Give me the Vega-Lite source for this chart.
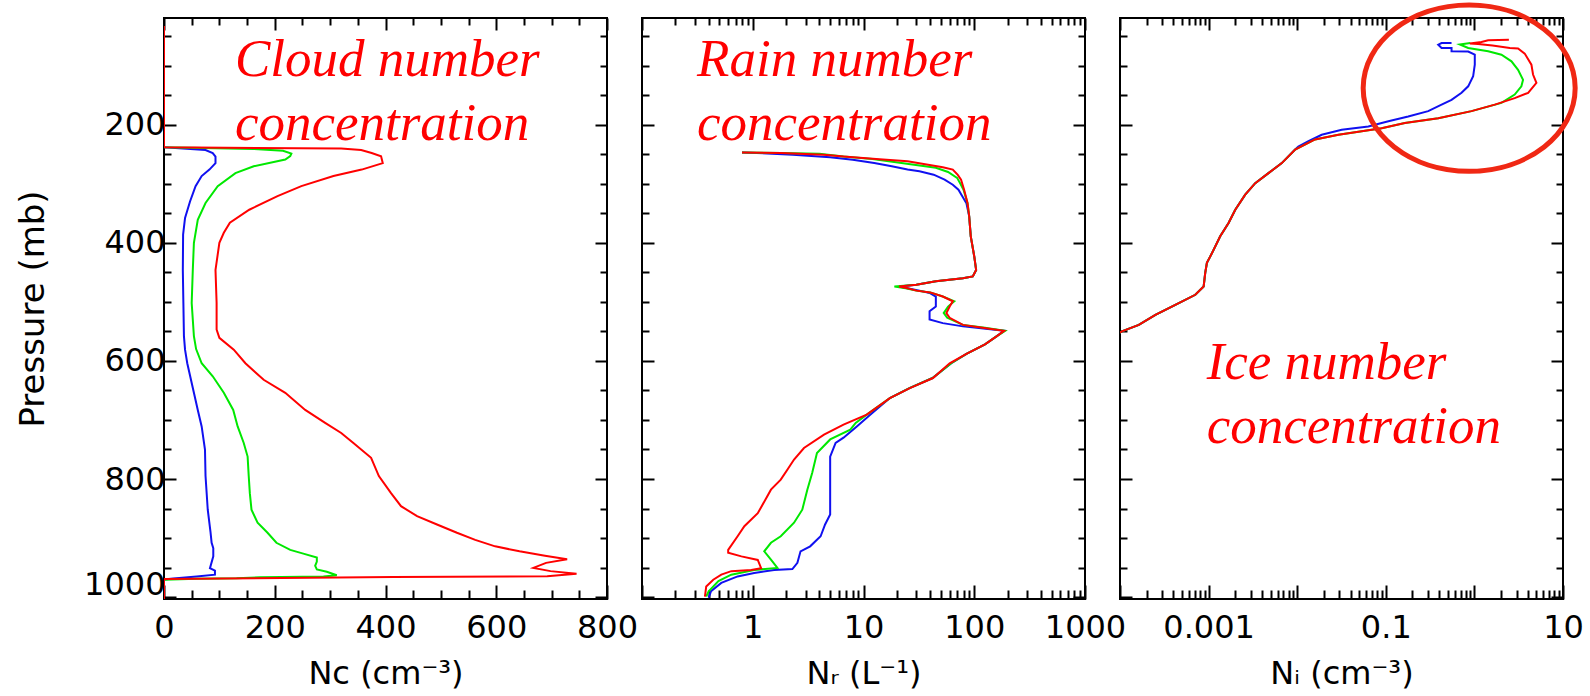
{
 "$schema": "https://vega.github.io/schema/vega-lite/v6.json",
 "background": "white",
 "padding": {"left": 15, "top": -7, "right": 5, "bottom": 0},
 "config": {
  "view": {"stroke": "#000000", "strokeWidth": 2},
  "axis": {"domain": false, "grid": false, "tickColor": "#000000", "tickWidth": 2, "labelFont": "DejaVu Sans", "labelFontSize": 32, "labelColor": "#000000", "titleFont": "DejaVu Sans", "titleFontSize": 32, "titleFontWeight": "normal", "titleColor": "#000000", "labelOverlap": false, "labelFlush": false, "labelBound": false}
 },
 "datasets": {
  "cloud": [
   {"run":"c1","p":33,"v":0},{"run":"c1","p":238,"v":0},{"run":"c1","p":243,"v":75},{"run":"c1","p":248,"v":88},{"run":"c1","p":254,"v":93},{"run":"c1","p":265,"v":93},{"run":"c1","p":276,"v":82},{"run":"c1","p":287,"v":68},{"run":"c1","p":304,"v":57},{"run":"c1","p":330,"v":47},{"run":"c1","p":358,"v":38},{"run":"c1","p":386,"v":34.5},{"run":"c1","p":446,"v":34},{"run":"c1","p":502,"v":35},{"run":"c1","p":558,"v":36},{"run":"c1","p":581,"v":38},{"run":"c1","p":604,"v":42},{"run":"c1","p":654,"v":54},{"run":"c1","p":683,"v":61},{"run":"c1","p":711,"v":68},{"run":"c1","p":750,"v":74},{"run":"c1","p":795,"v":75},{"run":"c1","p":852,"v":79},{"run":"c1","p":890,"v":84},{"run":"c1","p":908,"v":86},{"run":"c1","p":917,"v":89},{"run":"c1","p":931,"v":89},{"run":"c1","p":951,"v":83},{"run":"c1","p":955,"v":92},{"run":"c1","p":962,"v":92},{"run":"c1","p":965,"v":59},{"run":"c1","p":968.5,"v":17},{"run":"c1","p":970,"v":0},{"run":"c1","p":1003,"v":0},
   {"run":"c2","p":33,"v":0},{"run":"c2","p":238,"v":0},{"run":"c2","p":241,"v":162},{"run":"c2","p":244,"v":215},{"run":"c2","p":249,"v":230},{"run":"c2","p":253,"v":228},{"run":"c2","p":259,"v":219},{"run":"c2","p":270.5,"v":162},{"run":"c2","p":282,"v":129},{"run":"c2","p":304,"v":97},{"run":"c2","p":332.6,"v":75},{"run":"c2","p":361,"v":61},{"run":"c2","p":400,"v":54},{"run":"c2","p":446,"v":52},{"run":"c2","p":502,"v":50},{"run":"c2","p":558,"v":54},{"run":"c2","p":580,"v":58},{"run":"c2","p":604,"v":68},{"run":"c2","p":626,"v":88},{"run":"c2","p":654,"v":108},{"run":"c2","p":683,"v":125},{"run":"c2","p":711,"v":133},{"run":"c2","p":739,"v":144},{"run":"c2","p":762,"v":151},{"run":"c2","p":795,"v":153},{"run":"c2","p":824,"v":155},{"run":"c2","p":852,"v":158},{"run":"c2","p":874,"v":169},{"run":"c2","p":891,"v":187},{"run":"c2","p":908,"v":203},{"run":"c2","p":920,"v":228},{"run":"c2","p":926,"v":250},{"run":"c2","p":933,"v":276},{"run":"c2","p":940,"v":276},{"run":"c2","p":947,"v":273},{"run":"c2","p":953,"v":276},{"run":"c2","p":957,"v":294},{"run":"c2","p":963,"v":312},{"run":"c2","p":965,"v":288},{"run":"c2","p":966.5,"v":173},{"run":"c2","p":968,"v":131},{"run":"c2","p":969,"v":59},{"run":"c2","p":970.5,"v":0},{"run":"c2","p":1003,"v":0},
   {"run":"c3","p":33,"v":0},{"run":"c3","p":238,"v":0},{"run":"c3","p":240.5,"v":320},{"run":"c3","p":243,"v":356},{"run":"c3","p":248,"v":375},{"run":"c3","p":253.5,"v":392},{"run":"c3","p":265,"v":395},{"run":"c3","p":276,"v":357},{"run":"c3","p":287,"v":306},{"run":"c3","p":304,"v":248},{"run":"c3","p":321,"v":205},{"run":"c3","p":344,"v":154},{"run":"c3","p":366,"v":119},{"run":"c3","p":383,"v":108},{"run":"c3","p":400,"v":100},{"run":"c3","p":446,"v":93},{"run":"c3","p":502,"v":95},{"run":"c3","p":547,"v":95},{"run":"c3","p":561,"v":100},{"run":"c3","p":581,"v":126},{"run":"c3","p":604,"v":147},{"run":"c3","p":632,"v":180},{"run":"c3","p":654,"v":219},{"run":"c3","p":683,"v":255},{"run":"c3","p":705,"v":291},{"run":"c3","p":722,"v":320},{"run":"c3","p":739,"v":342},{"run":"c3","p":764,"v":374},{"run":"c3","p":795,"v":388},{"run":"c3","p":824,"v":410},{"run":"c3","p":846,"v":428},{"run":"c3","p":863,"v":457},{"run":"c3","p":877,"v":493},{"run":"c3","p":891,"v":529},{"run":"c3","p":903,"v":562},{"run":"c3","p":914,"v":598},{"run":"c3","p":922.5,"v":642},{"run":"c3","p":930,"v":688},{"run":"c3","p":936,"v":728},{"run":"c3","p":942,"v":690},{"run":"c3","p":950.5,"v":667},{"run":"c3","p":956,"v":698},{"run":"c3","p":960.5,"v":745},{"run":"c3","p":964.8,"v":692},{"run":"c3","p":966,"v":414},{"run":"c3","p":969.5,"v":0},{"run":"c3","p":1003,"v":0}
  ],
  "rain": [
   {"run":"c1","p":247,"v":0.8},{"run":"c1","p":249,"v":1.5},{"run":"c1","p":251,"v":2.3},{"run":"c1","p":255,"v":5},{"run":"c1","p":259.5,"v":8},{"run":"c1","p":265,"v":12.5},{"run":"c1","p":270.5,"v":18},{"run":"c1","p":276,"v":25},{"run":"c1","p":279,"v":32},{"run":"c1","p":284.6,"v":43},{"run":"c1","p":293,"v":54},{"run":"c1","p":301.6,"v":64},{"run":"c1","p":310,"v":72},{"run":"c1","p":321,"v":78},{"run":"c1","p":333,"v":85},{"run":"c1","p":355,"v":90},{"run":"c1","p":389,"v":93},{"run":"c1","p":423,"v":100},{"run":"c1","p":446,"v":104},{"run":"c1","p":457,"v":97},{"run":"c1","p":460,"v":79},{"run":"c1","p":465,"v":45},{"run":"c1","p":471,"v":30},{"run":"c1","p":474,"v":21},{"run":"c1","p":477,"v":25},{"run":"c1","p":481,"v":32},{"run":"c1","p":485,"v":39.5},{"run":"c1","p":491,"v":45},{"run":"c1","p":508,"v":45},{"run":"c1","p":516,"v":39.5},{"run":"c1","p":530,"v":39.5},{"run":"c1","p":536,"v":52},{"run":"c1","p":541.5,"v":79},{"run":"c1","p":549,"v":186},{"run":"c1","p":558,"v":160},{"run":"c1","p":572,"v":125},{"run":"c1","p":588,"v":85},{"run":"c1","p":604,"v":62},{"run":"c1","p":629,"v":42},{"run":"c1","p":646,"v":26},{"run":"c1","p":663,"v":17.3},{"run":"c1","p":691,"v":11.5},{"run":"c1","p":711,"v":8.7},{"run":"c1","p":730,"v":6.6},{"run":"c1","p":739,"v":5.6},{"run":"c1","p":762,"v":5.0},{"run":"c1","p":860,"v":5.0},{"run":"c1","p":877,"v":4.5},{"run":"c1","p":897,"v":4.1},{"run":"c1","p":914,"v":3.3},{"run":"c1","p":922.5,"v":2.7},{"run":"c1","p":942,"v":2.53},{"run":"c1","p":952.5,"v":2.28},{"run":"c1","p":954,"v":1.56},{"run":"c1","p":959,"v":1.03},{"run":"c1","p":965,"v":0.73},{"run":"c1","p":976,"v":0.52},{"run":"c1","p":990,"v":0.42},{"run":"c1","p":1001,"v":0.4},
   {"run":"c2","p":247,"v":0.8},{"run":"c2","p":248,"v":1.8},{"run":"c2","p":249,"v":4},{"run":"c2","p":254,"v":6.6},{"run":"c2","p":258,"v":12},{"run":"c2","p":265,"v":22},{"run":"c2","p":273,"v":45},{"run":"c2","p":280,"v":58},{"run":"c2","p":290,"v":70},{"run":"c2","p":300,"v":75},{"run":"c2","p":310,"v":80},{"run":"c2","p":333,"v":87},{"run":"c2","p":355,"v":90},{"run":"c2","p":389,"v":93},{"run":"c2","p":423,"v":100},{"run":"c2","p":446,"v":104},{"run":"c2","p":457,"v":97},{"run":"c2","p":460,"v":79},{"run":"c2","p":465,"v":45},{"run":"c2","p":471,"v":30},{"run":"c2","p":474,"v":19},{"run":"c2","p":477,"v":24},{"run":"c2","p":481,"v":30},{"run":"c2","p":484,"v":40},{"run":"c2","p":491,"v":52},{"run":"c2","p":499,"v":66},{"run":"c2","p":508,"v":58},{"run":"c2","p":519,"v":53},{"run":"c2","p":527,"v":57},{"run":"c2","p":539,"v":79},{"run":"c2","p":544,"v":125},{"run":"c2","p":549,"v":190},{"run":"c2","p":558,"v":160},{"run":"c2","p":572,"v":125},{"run":"c2","p":588,"v":85},{"run":"c2","p":604,"v":62},{"run":"c2","p":629,"v":42},{"run":"c2","p":646,"v":26},{"run":"c2","p":663,"v":17.3},{"run":"c2","p":691,"v":10.7},{"run":"c2","p":705,"v":8.5},{"run":"c2","p":716.5,"v":7.6},{"run":"c2","p":733,"v":5.0},{"run":"c2","p":756,"v":3.8},{"run":"c2","p":790,"v":3.44},{"run":"c2","p":818,"v":3.11},{"run":"c2","p":852,"v":2.8},{"run":"c2","p":874,"v":2.36},{"run":"c2","p":897,"v":1.79},{"run":"c2","p":908,"v":1.46},{"run":"c2","p":922.5,"v":1.27},{"run":"c2","p":936.7,"v":1.46},{"run":"c2","p":950.7,"v":1.67},{"run":"c2","p":954,"v":1.03},{"run":"c2","p":962,"v":0.64},{"run":"c2","p":973,"v":0.49},{"run":"c2","p":990,"v":0.4},{"run":"c2","p":999,"v":0.38},
   {"run":"c3","p":247,"v":0.8},{"run":"c3","p":248,"v":1.8},{"run":"c3","p":251,"v":4.4},{"run":"c3","p":254,"v":6.6},{"run":"c3","p":258,"v":13},{"run":"c3","p":262,"v":25},{"run":"c3","p":272,"v":52},{"run":"c3","p":276,"v":64},{"run":"c3","p":285,"v":71},{"run":"c3","p":293,"v":76},{"run":"c3","p":310,"v":81},{"run":"c3","p":333,"v":87},{"run":"c3","p":355,"v":90},{"run":"c3","p":389,"v":93},{"run":"c3","p":423,"v":100},{"run":"c3","p":446,"v":104},{"run":"c3","p":457,"v":97},{"run":"c3","p":460,"v":79},{"run":"c3","p":465,"v":45},{"run":"c3","p":471,"v":30},{"run":"c3","p":474,"v":21},{"run":"c3","p":477,"v":25},{"run":"c3","p":481,"v":30},{"run":"c3","p":484,"v":40},{"run":"c3","p":491,"v":52},{"run":"c3","p":499,"v":64},{"run":"c3","p":508,"v":60},{"run":"c3","p":519,"v":56},{"run":"c3","p":527,"v":60},{"run":"c3","p":539,"v":79},{"run":"c3","p":544,"v":119},{"run":"c3","p":549,"v":186},{"run":"c3","p":558,"v":160},{"run":"c3","p":572,"v":125},{"run":"c3","p":588,"v":85},{"run":"c3","p":604,"v":60},{"run":"c3","p":629,"v":42.4},{"run":"c3","p":646,"v":26.2},{"run":"c3","p":663,"v":17.3},{"run":"c3","p":691,"v":10.7},{"run":"c3","p":708,"v":6.6},{"run":"c3","p":725,"v":4.4},{"run":"c3","p":747.5,"v":2.9},{"run":"c3","p":767,"v":2.36},{"run":"c3","p":784,"v":2.06},{"run":"c3","p":801,"v":1.79},{"run":"c3","p":818,"v":1.46},{"run":"c3","p":858,"v":1.11},{"run":"c3","p":880,"v":0.84},{"run":"c3","p":897,"v":0.73},{"run":"c3","p":920,"v":0.6},{"run":"c3","p":925,"v":0.6},{"run":"c3","p":931,"v":0.79},{"run":"c3","p":937,"v":1.11},{"run":"c3","p":951,"v":1.19},{"run":"c3","p":954,"v":0.97},{"run":"c3","p":956,"v":0.64},{"run":"c3","p":962,"v":0.52},{"run":"c3","p":970.5,"v":0.44},{"run":"c3","p":982,"v":0.38},{"run":"c3","p":999,"v":0.37}
  ],
  "ice": [
   {"run":"c1","p":552,"v":0.0001},{"run":"c1","p":550,"v":0.000105},{"run":"c1","p":539,"v":0.000163},{"run":"c1","p":522,"v":0.000251},{"run":"c1","p":505,"v":0.000421},{"run":"c1","p":488,"v":0.000708},{"run":"c1","p":474,"v":0.000879},{"run":"c1","p":451,"v":0.000916},{"run":"c1","p":434,"v":0.000957},{"run":"c1","p":423,"v":0.001045},{"run":"c1","p":412,"v":0.001138},{"run":"c1","p":389,"v":0.001352},{"run":"c1","p":366.5,"v":0.00168},{"run":"c1","p":344,"v":0.002},{"run":"c1","p":318.5,"v":0.00259},{"run":"c1","p":299,"v":0.00336},{"run":"c1","p":282,"v":0.00474},{"run":"c1","p":265,"v":0.0067},{"run":"c1","p":242,"v":0.00948},{"run":"c1","p":237,"v":0.0103},{"run":"c1","p":228,"v":0.0134},{"run":"c1","p":217,"v":0.0189},{"run":"c1","p":208.5,"v":0.0318},{"run":"c1","p":203,"v":0.0635},{"run":"c1","p":194,"v":0.107},{"run":"c1","p":186,"v":0.179},{"run":"c1","p":177,"v":0.301},{"run":"c1","p":166,"v":0.426},{"run":"c1","p":158,"v":0.552},{"run":"c1","p":146,"v":0.716},{"run":"c1","p":135,"v":0.851},{"run":"c1","p":118,"v":0.968},{"run":"c1","p":98.4,"v":1.01},{"run":"c1","p":81.4,"v":1.01},{"run":"c1","p":76,"v":0.851},{"run":"c1","p":75.7,"v":0.552},{"run":"c1","p":70.2,"v":0.552},{"run":"c1","p":70,"v":0.426},{"run":"c1","p":64.5,"v":0.391},{"run":"c1","p":61.8,"v":0.426},{"run":"c1","p":61.6,"v":0.552},
   {"run":"c2","p":552,"v":0.0001},{"run":"c2","p":550,"v":0.000105},{"run":"c2","p":539,"v":0.000163},{"run":"c2","p":522,"v":0.000251},{"run":"c2","p":505,"v":0.000421},{"run":"c2","p":488,"v":0.000708},{"run":"c2","p":474,"v":0.000879},{"run":"c2","p":451,"v":0.000916},{"run":"c2","p":434,"v":0.000957},{"run":"c2","p":423,"v":0.001045},{"run":"c2","p":412,"v":0.001138},{"run":"c2","p":389,"v":0.001352},{"run":"c2","p":366.5,"v":0.00168},{"run":"c2","p":344,"v":0.002},{"run":"c2","p":318.5,"v":0.00259},{"run":"c2","p":299,"v":0.00336},{"run":"c2","p":282,"v":0.00474},{"run":"c2","p":265,"v":0.0067},{"run":"c2","p":242,"v":0.00948},{"run":"c2","p":225,"v":0.0159},{"run":"c2","p":217,"v":0.0292},{"run":"c2","p":211,"v":0.0535},{"run":"c2","p":206,"v":0.0897},{"run":"c2","p":197,"v":0.164},{"run":"c2","p":189,"v":0.391},{"run":"c2","p":177,"v":0.927},{"run":"c2","p":163,"v":2.02},{"run":"c2","p":149,"v":2.85},{"run":"c2","p":135,"v":3.39},{"run":"c2","p":124,"v":3.54},{"run":"c2","p":107,"v":3.11},{"run":"c2","p":92.7,"v":2.62},{"run":"c2","p":81.4,"v":2.02},{"run":"c2","p":75.7,"v":1.43},{"run":"c2","p":70,"v":0.851},{"run":"c2","p":64,"v":0.685},{"run":"c2","p":61.6,"v":0.9},
   {"run":"c3","p":552,"v":0.0001},{"run":"c3","p":550,"v":0.000105},{"run":"c3","p":539,"v":0.000163},{"run":"c3","p":522,"v":0.000251},{"run":"c3","p":505,"v":0.000421},{"run":"c3","p":488,"v":0.000708},{"run":"c3","p":474,"v":0.000879},{"run":"c3","p":451,"v":0.000916},{"run":"c3","p":434,"v":0.000957},{"run":"c3","p":423,"v":0.001045},{"run":"c3","p":412,"v":0.001138},{"run":"c3","p":389,"v":0.001352},{"run":"c3","p":366.5,"v":0.00168},{"run":"c3","p":344,"v":0.002},{"run":"c3","p":318.5,"v":0.00259},{"run":"c3","p":299,"v":0.00336},{"run":"c3","p":282,"v":0.00474},{"run":"c3","p":265,"v":0.0067},{"run":"c3","p":242,"v":0.00948},{"run":"c3","p":225,"v":0.0159},{"run":"c3","p":217,"v":0.0292},{"run":"c3","p":211,"v":0.0535},{"run":"c3","p":206,"v":0.0897},{"run":"c3","p":197,"v":0.164},{"run":"c3","p":189,"v":0.391},{"run":"c3","p":177,"v":0.927},{"run":"c3","p":166,"v":1.7},{"run":"c3","p":155,"v":2.85},{"run":"c3","p":146,"v":4.04},{"run":"c3","p":129,"v":5.01},{"run":"c3","p":115,"v":4.59},{"run":"c3","p":98.4,"v":4.4},{"run":"c3","p":79.6,"v":3.7},{"run":"c3","p":71,"v":3.11},{"run":"c3","p":70,"v":2.51},{"run":"c3","p":66,"v":1.6},{"run":"c3","p":63.5,"v":1.1},{"run":"c3","p":62.5,"v":0.89},{"run":"c3","p":60,"v":1.2},{"run":"c3","p":57,"v":1.43},{"run":"c3","p":56,"v":2.45}
  ],
  "notes": [
   {"panel":"cloud","label":"Cloud number","v":128,"p":117},
   {"panel":"cloud","label":"concentration","v":128,"p":225.4},
   {"panel":"rain","label":"Rain number","v":0.314,"p":117},
   {"panel":"rain","label":"concentration","v":0.314,"p":225.4},
   {"panel":"ice","label":"Ice number","v":0.00095,"p":630.7},
   {"panel":"ice","label":"concentration","v":0.00095,"p":739}
  ],
  "ring": [{"v":0.873,"p":138}]
 },
 "spacing": 35,
 "bounds": "flush",
 "hconcat": [
  {
   "width": 443, "height": 581,
   "layer": [
    {
     "data": {"name": "cloud"},
     "mark": {"type": "line", "strokeWidth": 2, "clip": true},
     "encoding": {
      "x": {"field": "v", "type": "quantitative", "scale": {"domain": [0, 800], "nice": false, "zero": false},
            "axis": {"orient": "bottom", "values": [0,50,100,150,200,250,300,350,400,450,500,550,600,650,700,750,800], "tickSize": {"condition": {"test": "datum.value % 200 === 0", "value": -14}, "value": -9}, "labelExpr": "datum.value % 200 === 0 ? format(datum.value, 'd') : ''", "labelPadding": 27, "title": "Nc (cm⁻³)", "titlePadding": 10}},
      "y": {"field": "p", "type": "quantitative", "scale": {"domain": [19.3, 1003.2], "reverse": true, "nice": false, "zero": false},
            "axis": {"orient": "left", "values": [50,100,150,200,250,300,350,400,450,500,550,600,650,700,750,800,850,900,950,1000], "tickSize": {"condition": {"test": "datum.value % 200 === 0", "value": -12}, "value": -7}, "labelExpr": "datum.value % 200 === 0 ? format(datum.value, 'd') : ''", "labelPadding": 11, "labelOffset": {"condition": {"test": "datum.value === 1000", "value": -13}, "value": 0}, "title": "Pressure (mb)", "titleFontSize": 34, "titlePadding": 33}},
      "color": {"field": "run", "type": "nominal", "scale": {"domain": ["c1", "c2", "c3"], "range": ["#1010f0", "#00e800", "#ff0000"]}, "legend": null},
      "order": {"field": "p", "type": "quantitative"}
     }
    },
    {
     "data": {"name": "notes"},
     "transform": [{"filter": "datum.panel === 'cloud'"}],
     "mark": {"type": "text", "align": "left", "baseline": "alphabetic", "font": "Liberation Serif", "fontStyle": "italic", "fontSize": 53, "fill": "#ff0000"},
     "encoding": {
      "x": {"field": "v", "type": "quantitative", "scale": {"domain": [0, 800], "nice": false, "zero": false},
            "axis": {"orient": "top", "values": [0,50,100,150,200,250,300,350,400,450,500,550,600,650,700,750,800], "tickSize": {"condition": {"test": "datum.value % 200 === 0", "value": -12}, "value": -7}, "labels": false, "title": null}},
      "y": {"field": "p", "type": "quantitative", "scale": {"domain": [19.3, 1003.2], "reverse": true, "nice": false, "zero": false},
            "axis": {"orient": "right", "values": [50,100,150,200,250,300,350,400,450,500,550,600,650,700,750,800,850,900,950,1000], "tickSize": {"condition": {"test": "datum.value % 200 === 0", "value": -12}, "value": -7}, "labels": false, "title": null}},
      "text": {"field": "label", "type": "nominal"}
     }
    }
   ],
   "resolve": {"axis": {"x": "independent", "y": "independent"}}
  },
  {
   "width": 443, "height": 581,
   "layer": [
    {
     "data": {"name": "rain"},
     "mark": {"type": "line", "strokeWidth": 2, "clip": true},
     "encoding": {
      "x": {"field": "v", "type": "quantitative", "scale": {"type": "log", "domain": [0.1, 1000], "nice": false},
            "axis": {"orient": "bottom", "values": [0.1,0.2,0.3,0.4,0.5,0.6,0.7,0.8,0.9,1,2,3,4,5,6,7,8,9,10,20,30,40,50,60,70,80,90,100,200,300,400,500,600,700,800,900,1000], "tickSize": {"condition": {"test": "abs(log(datum.value)/LN10 - round(log(datum.value)/LN10)) < 0.001", "value": -14}, "value": -9}, "labelExpr": "(abs(log(datum.value)/LN10 - round(log(datum.value)/LN10)) < 0.001 && datum.value >= 1) ? format(datum.value, '~g') : ''", "labelPadding": 27, "title": "Nᵣ (L⁻¹)", "titlePadding": 10}},
      "y": {"field": "p", "type": "quantitative", "scale": {"domain": [19.3, 1003.2], "reverse": true, "nice": false, "zero": false},
            "axis": {"orient": "left", "values": [50,100,150,200,250,300,350,400,450,500,550,600,650,700,750,800,850,900,950,1000], "tickSize": {"condition": {"test": "datum.value % 200 === 0", "value": -12}, "value": -7}, "labels": false, "title": null}},
      "color": {"field": "run", "type": "nominal", "scale": {"domain": ["c1", "c2", "c3"], "range": ["#1010f0", "#00e800", "#ff0000"]}, "legend": null},
      "order": {"field": "p", "type": "quantitative"}
     }
    },
    {
     "data": {"name": "notes"},
     "transform": [{"filter": "datum.panel === 'rain'"}],
     "mark": {"type": "text", "align": "left", "baseline": "alphabetic", "font": "Liberation Serif", "fontStyle": "italic", "fontSize": 53, "fill": "#ff0000"},
     "encoding": {
      "x": {"field": "v", "type": "quantitative", "scale": {"type": "log", "domain": [0.1, 1000], "nice": false},
            "axis": {"orient": "top", "values": [0.1,0.2,0.3,0.4,0.5,0.6,0.7,0.8,0.9,1,2,3,4,5,6,7,8,9,10,20,30,40,50,60,70,80,90,100,200,300,400,500,600,700,800,900,1000], "tickSize": {"condition": {"test": "abs(log(datum.value)/LN10 - round(log(datum.value)/LN10)) < 0.001", "value": -12}, "value": -7}, "labels": false, "title": null}},
      "y": {"field": "p", "type": "quantitative", "scale": {"domain": [19.3, 1003.2], "reverse": true, "nice": false, "zero": false},
            "axis": {"orient": "right", "values": [50,100,150,200,250,300,350,400,450,500,550,600,650,700,750,800,850,900,950,1000], "tickSize": {"condition": {"test": "datum.value % 200 === 0", "value": -12}, "value": -7}, "labels": false, "title": null}},
      "text": {"field": "label", "type": "nominal"}
     }
    }
   ],
   "resolve": {"axis": {"x": "independent", "y": "independent"}}
  },
  {
   "width": 443, "height": 581,
   "layer": [
    {
     "data": {"name": "ice"},
     "mark": {"type": "line", "strokeWidth": 2, "clip": true},
     "encoding": {
      "x": {"field": "v", "type": "quantitative", "scale": {"type": "log", "domain": [0.0001, 10], "nice": false},
            "axis": {"orient": "bottom", "values": [0.0001,0.0002,0.0003,0.0004,0.0005,0.0006,0.0007,0.0008,0.0009,0.001,0.002,0.003,0.004,0.005,0.006,0.007,0.008,0.009,0.01,0.02,0.03,0.04,0.05,0.06,0.07,0.08,0.09,0.1,0.2,0.3,0.4,0.5,0.6,0.7,0.8,0.9,1,2,3,4,5,6,7,8,9,10], "tickSize": {"condition": {"test": "abs(log(datum.value)/LN10 - round(log(datum.value)/LN10)) < 0.001", "value": -14}, "value": -9}, "labelExpr": "(abs(log(datum.value)/LN10 - round(log(datum.value)/LN10)) < 0.001 && round(log(datum.value)/LN10) % 2 !== 0) ? format(datum.value, '~g') : ''", "labelPadding": 27, "title": "Nᵢ (cm⁻³)", "titlePadding": 10}},
      "y": {"field": "p", "type": "quantitative", "scale": {"domain": [19.3, 1003.2], "reverse": true, "nice": false, "zero": false},
            "axis": {"orient": "left", "values": [50,100,150,200,250,300,350,400,450,500,550,600,650,700,750,800,850,900,950,1000], "tickSize": {"condition": {"test": "datum.value % 200 === 0", "value": -12}, "value": -7}, "labels": false, "title": null}},
      "color": {"field": "run", "type": "nominal", "scale": {"domain": ["c1", "c2", "c3"], "range": ["#1010f0", "#00e800", "#ff0000"]}, "legend": null},
      "order": {"field": "p", "type": "quantitative"}
     }
    },
    {
     "data": {"name": "notes"},
     "transform": [{"filter": "datum.panel === 'ice'"}],
     "mark": {"type": "text", "align": "left", "baseline": "alphabetic", "font": "Liberation Serif", "fontStyle": "italic", "fontSize": 53, "fill": "#ff0000"},
     "encoding": {
      "x": {"field": "v", "type": "quantitative", "scale": {"type": "log", "domain": [0.0001, 10], "nice": false},
            "axis": {"orient": "top", "values": [0.0001,0.0002,0.0003,0.0004,0.0005,0.0006,0.0007,0.0008,0.0009,0.001,0.002,0.003,0.004,0.005,0.006,0.007,0.008,0.009,0.01,0.02,0.03,0.04,0.05,0.06,0.07,0.08,0.09,0.1,0.2,0.3,0.4,0.5,0.6,0.7,0.8,0.9,1,2,3,4,5,6,7,8,9,10], "tickSize": {"condition": {"test": "abs(log(datum.value)/LN10 - round(log(datum.value)/LN10)) < 0.001", "value": -12}, "value": -7}, "labels": false, "title": null}},
      "y": {"field": "p", "type": "quantitative", "scale": {"domain": [19.3, 1003.2], "reverse": true, "nice": false, "zero": false},
            "axis": {"orient": "right", "values": [50,100,150,200,250,300,350,400,450,500,550,600,650,700,750,800,850,900,950,1000], "tickSize": {"condition": {"test": "datum.value % 200 === 0", "value": -12}, "value": -7}, "labels": false, "title": null}},
      "text": {"field": "label", "type": "nominal"}
     }
    },
    {
     "data": {"name": "ring"},
     "mark": {"type": "point", "shape": "M -1 0 A 1 0.785 0 1 1 1 0 A 1 0.785 0 1 1 -1 0 Z", "size": 44944, "filled": false, "stroke": "#f02814", "strokeWidth": 5, "opacity": 1},
     "encoding": {
      "x": {"field": "v", "type": "quantitative", "scale": {"type": "log", "domain": [0.0001, 10], "nice": false}, "axis": null},
      "y": {"field": "p", "type": "quantitative", "scale": {"domain": [19.3, 1003.2], "reverse": true, "nice": false, "zero": false}, "axis": null}
     }
    }
   ],
   "resolve": {"axis": {"x": "independent", "y": "independent"}}
  }
 ]
}
